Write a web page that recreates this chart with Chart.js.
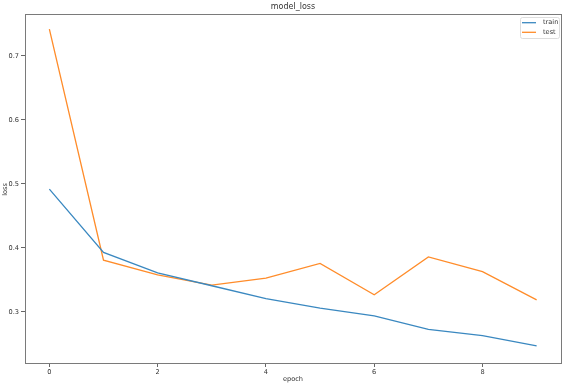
<!DOCTYPE html>
<html>
<head>
<meta charset="utf-8">
<script src="https://cdn.jsdelivr.net/npm/chart.js@4"></script>
<style>
  html, body { margin: 0; padding: 0; background: #fff; }
  #wrap { width: 579px; height: 389px; }
</style>
</head>
<body>
<div id="wrap"><canvas id="lossChart" width="579" height="389"></canvas></div>
<script>
const epochs = [0, 1, 2, 3, 4, 5, 6, 7, 8, 9]
const trainLoss = [0.492, 0.393, 0.361, 0.341, 0.321, 0.306, 0.294, 0.273, 0.263, 0.247]
const testLoss = [0.742, 0.381, 0.358, 0.342, 0.353, 0.376, 0.327, 0.386, 0.363, 0.319]
const xTicks = [0, 2, 4, 6, 8]
const yTicks = [0.3, 0.4, 0.5, 0.6, 0.7]

const FONT = 'DejaVu Sans'
const TEXT_COLOR = '#333'

function points(ys){
    return epochs.map((e, i) => ({x: e, y: ys[i]}))
}

// frame, title, axis labels and the legend box, matplotlib style
const decorations = {
    id: 'decorations',
    afterDraw(chart){
        const ctx = chart.ctx
        const a = chart.chartArea
        ctx.save()
        ctx.strokeStyle = '#7a7a7a'
        ctx.lineWidth = 1
        ctx.strokeRect(a.left + 0.5, a.top + 0.5, a.right - a.left, a.bottom - a.top)

        ctx.fillStyle = TEXT_COLOR
        ctx.textAlign = 'center'
        ctx.textBaseline = 'middle'
        ctx.font = '8px ' + FONT
        ctx.fillText('model_loss', (a.left + a.right) / 2, 7)
        ctx.font = '6.6px ' + FONT
        ctx.fillText('epoch', (a.left + a.right) / 2, 379)
        ctx.translate(5, 189.5)
        ctx.rotate(-Math.PI / 2)
        ctx.fillText('loss', 0, 0)
        ctx.restore()

        // legend
        ctx.save()
        const bx = 520, by = 17, bw = 39, bh = 21
        ctx.fillStyle = 'rgba(255,255,255,0.8)'
        ctx.strokeStyle = '#ddd'
        ctx.lineWidth = 1
        ctx.beginPath()
        ctx.roundRect(bx + 0.5, by + 0.5, bw, bh, 2)
        ctx.fill()
        ctx.stroke()
        ctx.font = '6.6px ' + FONT
        ctx.textAlign = 'left'
        ctx.textBaseline = 'middle'
        chart.data.datasets.forEach((ds, i) => {
            const y = 22.7 + i * 9.6
            ctx.strokeStyle = ds.borderColor
            ctx.lineWidth = 1.3
            ctx.beginPath()
            ctx.moveTo(522, y)
            ctx.lineTo(536, y)
            ctx.stroke()
            ctx.fillStyle = TEXT_COLOR
            ctx.fillText(ds.label, 543, y)
        })
        ctx.restore()
    }
}

new Chart(document.getElementById('lossChart'), {
    type: 'line',
    data: {
        datasets: [
            {label: 'train', data: points(trainLoss), borderColor: '#3a88c0', borderWidth: 1.3, pointRadius: 0, tension: 0},
            {label: 'test', data: points(testLoss), borderColor: '#ff8c2a', borderWidth: 1.3, pointRadius: 0, tension: 0}
        ]
    },
    options: {
        responsive: false,
        animation: false,
        layout: {padding: {left: 0, top: 14, right: 18, bottom: 0}},
        plugins: {
            legend: {display: false},
            title: {display: false},
            tooltip: {enabled: false}
        },
        scales: {
            x: {
                type: 'linear',
                min: -0.45,
                max: 9.45,
                afterBuildTicks: (scale) => { scale.ticks = xTicks.map(v => ({value: v})) },
                afterFit: (scale) => { scale.height = 26 },
                grid: {drawOnChartArea: false, drawTicks: true, tickLength: 4, color: '#666'},
                border: {display: false},
                ticks: {font: {family: FONT, size: 6.6}, color: TEXT_COLOR, padding: 1, maxRotation: 0}
            },
            y: {
                type: 'linear',
                min: 0.2203,
                max: 0.7656,
                afterBuildTicks: (scale) => { scale.ticks = yTicks.map(v => ({value: v})) },
                afterFit: (scale) => { scale.width = 25 },
                grid: {drawOnChartArea: false, drawTicks: true, tickLength: 4, color: '#666'},
                border: {display: false},
                ticks: {font: {family: FONT, size: 6.6}, color: TEXT_COLOR, padding: 2, callback: (v) => v.toFixed(1)}
            }
        }
    },
    plugins: [decorations]
})
</script>
</body>
</html>
